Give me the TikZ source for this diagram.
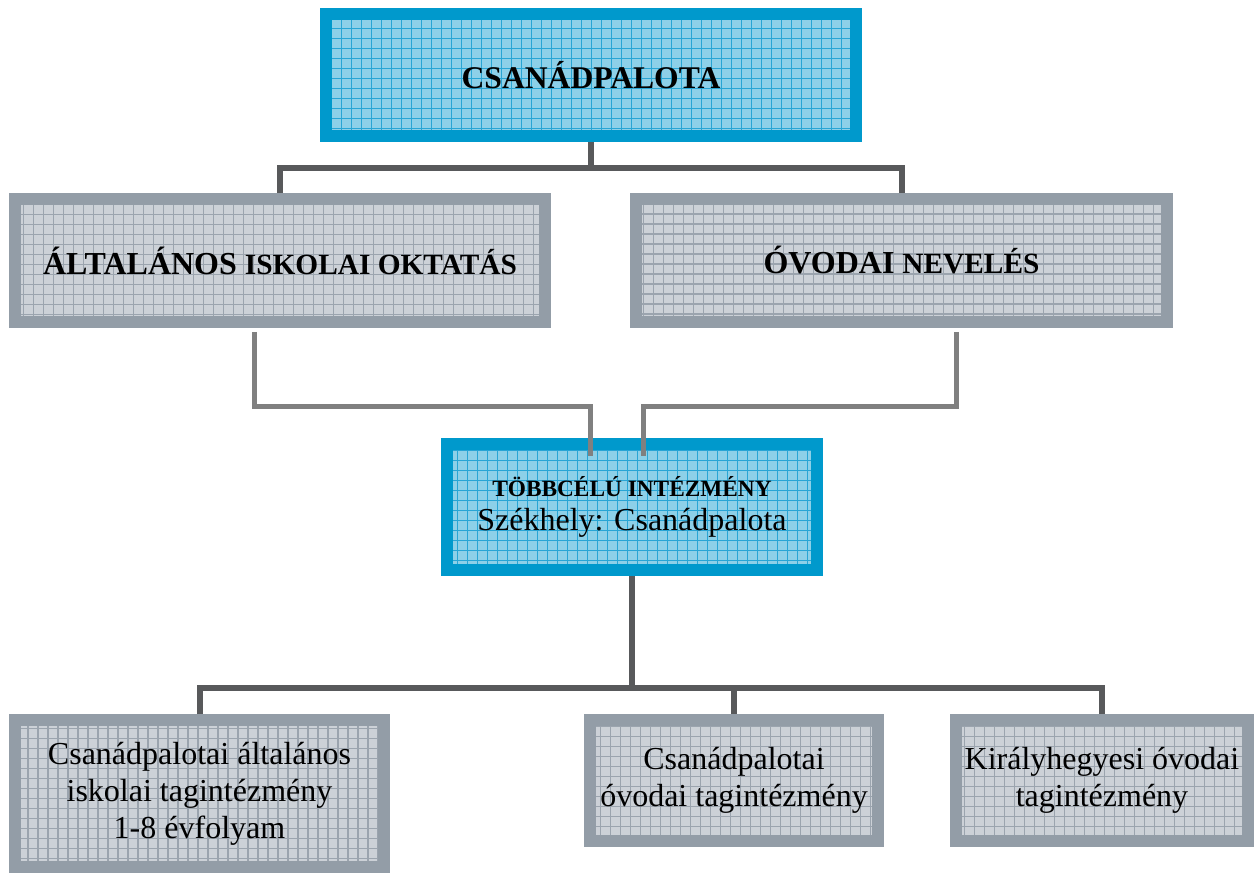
\documentclass[tikz,border=0pt]{standalone}
\usepackage{fontspec}
\setmainfont{Liberation Serif}
\usetikzlibrary{calc}
\definecolor{blueline}{RGB}{0, 153, 204}
\definecolor{bluefill}{RGB}{141, 208, 232}
\definecolor{bluegrid}{RGB}{40, 165, 213}
\definecolor{grayline}{RGB}{147, 157, 167}
\definecolor{grayfill}{RGB}{204, 209, 215}
\definecolor{graygrid}{RGB}{155, 164, 174}
\definecolor{darklink}{RGB}{88, 89, 91}
\definecolor{lightlink}{RGB}{128, 128, 128}

\begin{document}
\begin{tikzpicture}[x=0.75pt,y=-0.75pt,
		orgbox/.style={draw, line width=9pt, outer sep=4.5pt, inner sep=0pt, align=center},
		bluebox/.style={orgbox, draw=blueline, fill=bluefill,
			path picture={\draw[bluegrid, line width=0.8pt] (path picture bounding box.south west) grid[step=7.5pt] (path picture bounding box.north east);}},
		graybox/.style={orgbox, draw=grayline, fill=grayfill,
			path picture={\draw[graygrid, line width=0.8pt] (path picture bounding box.south west) grid[step=7.5pt] (path picture bounding box.north east);}},
		linka/.style={darklink, line width=4.5pt},
		linkb/.style={lightlink, line width=3.75pt}]
				\useasboundingbox (0,0) rectangle (1254,873);
				% boxes
				\node[bluebox, minimum width=397.5pt, minimum height=91.5pt, font=\fontsize{23.7}{28}\selectfont\bfseries] (top) at (591,75) {CSANÁDPALOTA};
				\node[graybox, minimum width=397.5pt, minimum height=92.25pt, font=\fontsize{24}{28}\selectfont\bfseries] (alt) at (280,260.5) {ÁLTALÁNOS {\fontsize{22}{26}\selectfont ISKOLAI OKTATÁS}};
				\node[graybox, minimum width=398.25pt, minimum height=92.25pt, font=\fontsize{24}{28}\selectfont\bfseries] (ovo) at (901.5,260.5) {ÓVODAI {\fontsize{22}{26}\selectfont NEVELÉS}};
				\node[bluebox, minimum width=277.5pt, minimum height=94.5pt, font=\fontsize{24}{25.5}\selectfont] (tobb) at (632,507) {{\fontsize{17.5}{21}\selectfont\bfseries TÖBBCÉLÚ INTÉZMÉNY}\\Székhely: Csanádpalota};
				\node[graybox, minimum width=276.75pt, minimum height=110.25pt, font=\fontsize{24}{27.75}\selectfont] (isk) at (199.5,793.5) {Csanádpalotai általános\\iskolai tagintézmény\\1-8 évfolyam};
				\node[graybox, minimum width=216pt, minimum height=90.75pt, font=\fontsize{24}{27.75}\selectfont] (ovtag) at (734,780.5) {Csanádpalotai\\óvodai tagintézmény};
				\node[graybox, minimum width=219pt, minimum height=90.75pt, font=\fontsize{24}{27.75}\selectfont] (kir) at (1102,780.5) {Királyhegyesi óvodai\\tagintézmény};
				% connectors
				\draw[linka] (top.south) -- ++(0,26) coordinate (tj);
				\draw[linka] (alt.north) |- (tj) -| (ovo.north);
				\draw[linkb] ($(alt.south)+(-26,4)$) |- ($(tobb.north)+(-42,-31)$) -- ($(tobb.north)+(-42,18)$);
				\draw[linkb] ($(ovo.south)+(54.5,4)$) |- ($(tobb.north)+(11,-31)$) -- ($(tobb.north)+(11,18)$);
				\draw[linka] (tobb.south) -- ++(0,112) coordinate (bj);
				\draw[linka] (isk.north) |- (bj) -| (kir.north);
				\draw[linka] (bj -| ovtag.north) -- (ovtag.north);
			\end{tikzpicture}
\end{document}
